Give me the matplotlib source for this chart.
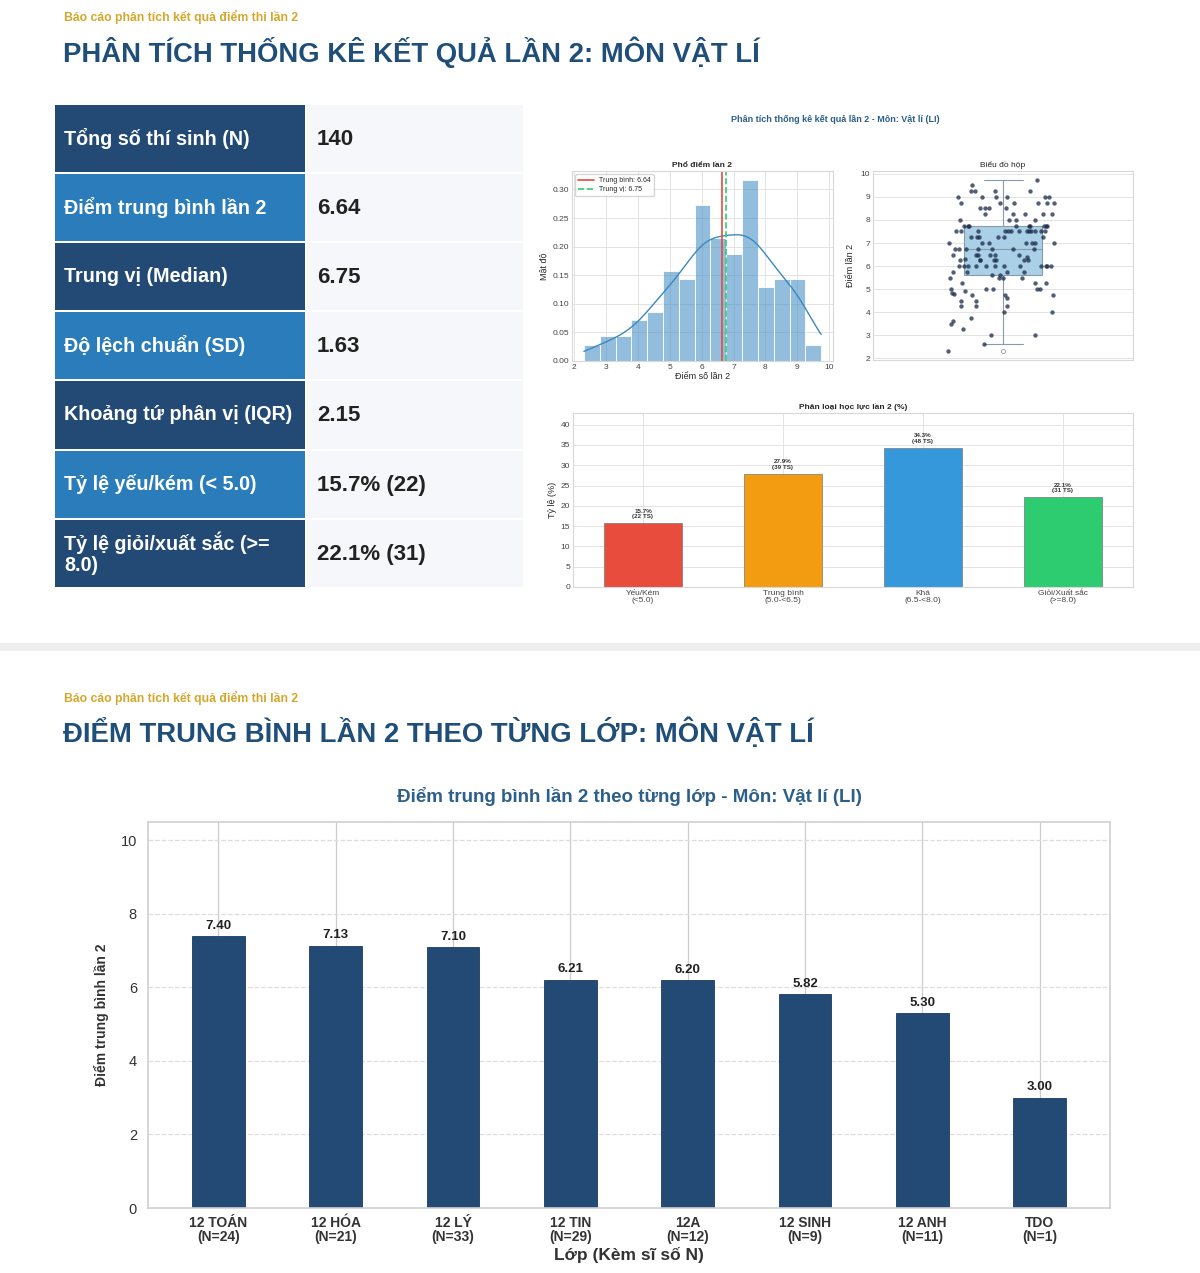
import numpy as np
import matplotlib
matplotlib.use("Agg")
import matplotlib.pyplot as plt
from matplotlib.patches import Rectangle
import seaborn as sns

# ---- data ----
stat_labels = ["Tổng số thí sinh (N)", "Điểm trung bình lần 2", "Trung vị (Median)",
               "Độ lệch chuẩn (SD)", "Khoảng tứ phân vị (IQR)", "Tỷ lệ yếu/kém (< 5.0)",
               "Tỷ lệ giỏi/xuất sắc (>=\n8.0)"]
stat_values = ["140", "6.64", "6.75", "1.63", "2.15", "15.7% (22)", "22.1% (31)"]

# score distribution (value -> number of students)
score_values = [2.3, 2.6, 3.0, 3.25, 3.5, 3.6, 3.75, 4.0, 4.25, 4.5, 4.6, 4.75, 4.8, 4.85, 4.9,
                5.0, 5.25, 5.5, 5.6, 5.75, 6.0, 6.25, 6.3, 6.4, 6.5, 6.75, 7.0, 7.25, 7.5, 7.75,
                8.0, 8.25, 8.5, 8.75, 9.0, 9.25, 9.5, 9.75]
score_counts = [1, 1, 2, 1, 1, 1, 1, 2, 3, 2, 1, 3, 1, 1, 1,
                5, 3, 4, 2, 4, 12, 7, 1, 1, 6, 7, 7, 6, 13, 9,
                4, 5, 4, 6, 6, 4, 1, 1]

level_names = ["Yếu/Kém\n(<5.0)", "Trung bình\n(5.0-<6.5)", "Khá\n(6.5-<8.0)", "Giỏi/Xuất sắc\n(>=8.0)"]
level_pct = [15.7, 27.9, 34.3, 22.1]
level_counts = [22, 39, 48, 31]
level_colors = ["#E74C3C", "#F39C12", "#3498DB", "#2ECC71"]

class_names = ["12 TOÁN", "12 HÓA", "12 LÝ", "12 TIN", "12A", "12 SINH", "12 ANH", "TDO"]
class_sizes = [24, 21, 33, 29, 12, 9, 11, 1]
class_means = [7.40, 7.13, 7.10, 6.21, 6.20, 5.82, 5.30, 3.00]

sns.set_style("whitegrid")
plt.rcParams['font.family'] = ['Liberation Sans', 'DejaVu Sans']

W, H = 1200, 1273
fig = plt.figure(figsize=(W / 100, H / 100), dpi=100)
fig.patch.set_facecolor("white")

NAVY = "#1F4E79"
GOLD = "#D4A72C"


def ax_px(l, t, r, b):
    return fig.add_axes([l / W, 1 - b / H, (r - l) / W, (b - t) / H])


def ftext(x, y, s, **kw):
    fig.text(x / W, 1 - y / H, s, **kw)


# background layer for table and separator
bg = fig.add_axes([0, 0, 1, 1])
bg.set_xlim(0, W)
bg.set_ylim(H, 0)
bg.axis("off")
bg.add_patch(Rectangle((0, 643), W, 8, color="#EEEEEE", lw=0))

# headers
for y0, title in [(0, "PHÂN TÍCH THỐNG KÊ KẾT QUẢ LẦN 2: MÔN VẬT LÍ"),
                  (681, "ĐIỂM TRUNG BÌNH LẦN 2 THEO TỪNG LỚP: MÔN VẬT LÍ")]:
    ftext(64, y0 + 17, "Báo cáo phân tích kết quả điểm thi lần 2", fontsize=8.8, fontweight="bold",
          color=GOLD, va="center")
    ftext(63, y0 + 52, title, fontsize=19.8, fontweight="bold", color=NAVY, va="center")

# stats table
row_top, row_h = 104, 69.1
for i, (lab, val) in enumerate(zip(stat_labels, stat_values)):
    y = row_top + i * row_h
    col = "#234A74" if i % 2 == 0 else "#2A7DBA"
    bg.add_patch(Rectangle((55, y + 1), 250, row_h - 2, color=col, lw=0))
    bg.add_patch(Rectangle((307, y + 1), 216, row_h - 2, color="#F6F7FA", lw=0))
    bg.text(64, y + row_h / 2, lab, fontsize=14.2, fontweight="bold", color="white",
            va="center", ha="left", linespacing=1.15)
    bg.text(317, y + row_h / 2 + 1, val, fontsize=16, fontweight="bold", color="#222222",
            va="center", ha="left")

# ---- right panel (dashboard figure) ----
ftext(835, 120, "Phân tích thống kê kết quả lần 2 - Môn: Vật lí (LI)", fontsize=6.5,
      fontweight="bold", color="#2C5F8A", ha="center", va="center")

scores = np.repeat(score_values, score_counts)
mean_v = scores.mean()
median_v = np.median(scores)

small = 6
grid_c = "#E3E3E3"
spine_c = "#D8D8D8"


def style_small(ax):
    ax.tick_params(labelsize=small, colors="#444444", length=0, pad=2)
    ax.grid(color=grid_c, lw=0.7)
    for s in ax.spines.values():
        s.set_color(spine_c)
        s.set_linewidth(0.8)


# histogram
ax1 = ax_px(572, 171, 833, 361)
sns.histplot(scores, bins=15, stat="density", kde=True, color="#3A88C0", alpha=0.55,
             edgecolor="white", linewidth=0.6, ax=ax1, line_kws={"lw": 1.0})
ax1.axvline(mean_v, color="#E74C3C", lw=1.2, label=f"Trung bình: {mean_v:.2f}")
ax1.axvline(median_v, color="#2ECC71", lw=1.2, ls="--", label=f"Trung vị: {median_v:.2f}")
ax1.legend(loc="upper left", fontsize=5, frameon=True, handlelength=2.2,
           borderpad=0.4, labelspacing=0.3)
ax1.set_title("Phổ điểm lần 2", fontsize=6, fontweight="bold", pad=3)
ax1.set_xlabel("Điểm số lần 2", fontsize=6.5, labelpad=1)
ax1.set_ylabel("Mật độ", fontsize=6.5, labelpad=3)
ax1.set_xticks(range(2, 11))
ax1.set_yticks([0, 0.05, 0.10, 0.15, 0.20, 0.25, 0.30])
ax1.set_yticklabels(["0.00", "0.05", "0.10", "0.15", "0.20", "0.25", "0.30"])
style_small(ax1)

# box plot + strip
ax2 = ax_px(873, 171, 1133, 360)
ax2.boxplot(scores, positions=[0], widths=0.3, patch_artist=True,
            boxprops=dict(facecolor="#A9D0E6", edgecolor="#8A9AA8", lw=0.8),
            medianprops=dict(color="#8A9AA8", lw=0.8),
            whiskerprops=dict(color="#8A9AA8", lw=0.8),
            capprops=dict(color="#8A9AA8", lw=0.8),
            flierprops=dict(marker="o", markerfacecolor="white", markeredgecolor="#8A9AA8",
                            markersize=3, markeredgewidth=0.6))
idx = np.arange(len(scores))
jit = (((idx * 0.7548776662 + idx ** 2 * 0.5698402910) % 1) - 0.5) * 0.42
ax2.scatter(jit, scores, s=10, color="#1B2A4A", alpha=0.75, lw=0, zorder=3)
ax2.set_xlim(-0.5, 0.5)
ax2.set_xticks([])
ax2.set_yticks(range(2, 11))
ax2.set_ylabel("Điểm lần 2", fontsize=6.5, labelpad=4)
ax2.set_title("Biểu đồ hộp", fontsize=6, pad=3)
style_small(ax2)
ax2.grid(axis="x", visible=False)

# level bars
ax3 = ax_px(573, 413, 1133, 587)
xs = np.arange(len(level_names))
ax3.bar(xs, level_pct, width=0.56, color=level_colors, edgecolor="#777777", lw=0.5, zorder=2)
for x, p, c in zip(xs, level_pct, level_counts):
    ax3.text(x, p + 1.0, f"{p}%\n({c} TS)", ha="center", va="bottom", fontsize=4.5,
             fontweight="bold", color="#333333", linespacing=1.1)
ax3.set_xlim(-0.5, 3.5)
ax3.set_ylim(0, max(level_pct) * 1.25)
ax3.set_xticks(xs)
ax3.set_xticklabels(level_names, fontsize=5.2, linespacing=1.1)
ax3.set_yticks(range(0, 45, 5))
ax3.set_ylabel("Tỷ lệ (%)", fontsize=6.5, labelpad=3)
ax3.set_title("Phân loại học lực lần 2 (%)", fontsize=6, fontweight="bold", pad=3)
style_small(ax3)

# ---- class means chart ----
ftext(629, 797, "Điểm trung bình lần 2 theo từng lớp - Môn: Vật lí (LI)", fontsize=13.5,
      fontweight="bold", color="#2C5F8A", ha="center", va="center")
ax4 = ax_px(148, 822, 1110, 1208)
cx = np.arange(len(class_names))
ax4.bar(cx, class_means, width=0.45, color="#234A74", edgecolor="#1A3A5E", lw=0.6, zorder=2)
for x, m in zip(cx, class_means):
    ax4.text(x, m + 0.12, f"{m:.2f}", ha="center", va="bottom", fontsize=9.5,
             fontweight="bold", color="#222222")
ax4.set_xlim(-0.6, 7.6)
ax4.set_ylim(0, 10.5)
ax4.set_yticks(range(0, 11, 2))
ax4.set_xticks(cx)
ax4.set_xticklabels([f"{n}\n(N={s})" for n, s in zip(class_names, class_sizes)],
                    fontsize=10, fontweight="bold", color="#333333", linespacing=1.0)
ax4.tick_params(axis="y", labelsize=10.5, colors="#333333", length=0, pad=8)
ax4.tick_params(axis="x", length=0, pad=6)
ax4.grid(axis="y", ls="--", color="#DDDDDD", lw=0.9)
ax4.grid(axis="x", ls="-", color="#CCCCCC", lw=0.9)
for s in ax4.spines.values():
    s.set_color("#D0D0D0")
    s.set_linewidth(1.2)
ax4.set_xlabel("Lớp (Kèm sĩ số N)", fontsize=12.5, fontweight="bold", color="#333333", labelpad=2)
ax4.set_ylabel("Điểm trung bình lần 2", fontsize=10, fontweight="bold", color="#333333", labelpad=8)

fig.savefig("out.png", dpi=100, facecolor="white")
